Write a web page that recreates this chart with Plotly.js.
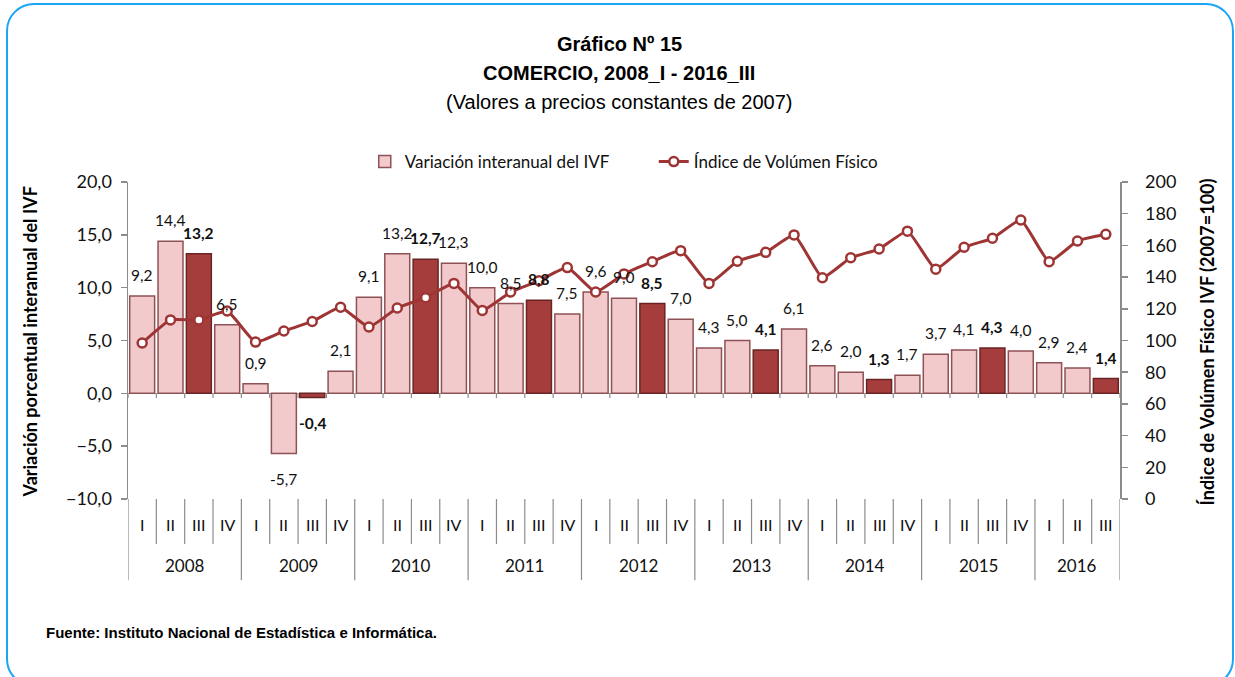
<!DOCTYPE html>
<html>
<head>
<meta charset="utf-8">
<script src="https://cdn.plot.ly/plotly-3.0.1.min.js"></script>
<style>
  body { margin: 0; background: #fff; }
  #wrap { position: relative; width: 1235px; height: 677px; }
  #plot { width: 1235px; height: 677px; }
  #frame {
    position: absolute; left: 6px; top: 3px; width: 1224px; height: 680px;
    border: 2px solid #1aa6f5; border-radius: 28px; pointer-events: none;
  }
</style>
</head>
<body>
<div id="wrap">
  <div id="plot"></div>
  <div id="frame"></div>
</div>
<script>
// data
const years = ["2008", "2009", "2010", "2011", "2012", "2013", "2014", "2015", "2016"];
const quarters = ["I", "II", "III", "IV"];
const variacion = [
  9.2, 14.4, 13.2, 6.5,
  0.9, -5.7, -0.4, 2.1,
  9.1, 13.2, 12.7, 12.3,
  10.0, 8.5, 8.8, 7.5,
  9.6, 9.0, 8.5, 7.0,
  4.3, 5.0, 4.1, 6.1,
  2.6, 2.0, 1.3, 1.7,
  3.7, 4.1, 4.3, 4.0,
  2.9, 2.4, 1.4
];
const ivf = [
  98.4, 113.0, 113.0, 118.6,
  99.0, 106.0, 112.0, 121.0,
  108.5, 120.5, 127.0, 136.0,
  119.0, 130.6, 137.7, 146.0,
  130.6, 142.0, 149.7, 156.7,
  136.0, 150.0, 155.6, 166.6,
  139.6, 152.2, 157.7, 169.0,
  145.0, 158.8, 164.5, 176.0,
  149.7, 162.8, 167.0
];

const n = variacion.length;
const xYear = [], xQuarter = [], cats = [];
for (let i = 0; i < n; i++) {
  xYear.push(years[Math.floor(i / 4)]);
  xQuarter.push(quarters[i % 4]);
  cats.push(xYear[i] + " " + xQuarter[i]);
}

const isThird = xQuarter.map((q) => q === "III");
const fmt = (v) => v.toFixed(1).replace(".", ",");

const lightFill = "#f3cacc", lightLine = "#8e5256";
const darkFill = "#a63d3d", darkLine = "#6a2424";
const lineColor = "#9e3534";
const axisGrey = "#8c8c8c";
const font = "Lato, 'Open Sans', sans-serif";
const titleFont = "'Liberation Sans', Arial, sans-serif";

const traces = [
  {
    type: "bar",
    name: "Variación interanual del IVF",
    x: cats,
    y: variacion,
    marker: {
      color: isThird.map((t) => (t ? darkFill : lightFill)),
      line: { color: isThird.map((t) => (t ? darkLine : lightLine)), width: 1.5 },
    },
    hoverinfo: "skip",
  },
  {
    type: "scatter",
    mode: "lines+markers",
    name: "Índice de Volúmen Físico",
    x: cats,
    y: ivf,
    yaxis: "y2",
    line: { color: lineColor, width: 3, shape: "spline", smoothing: 0.4 },
    marker: { symbol: "circle", size: 9, color: "#fff", line: { color: lineColor, width: 2.5 } },
    cliponaxis: false,
    hoverinfo: "skip",
  },
];

const annotations = [
  { text: "<b>Gráfico Nº 15</b>", y: 1.435 },
  { text: "<b>COMERCIO, 2008_I - 2016_III</b>", y: 1.344 },
  { text: "(Valores a precios constantes de 2007)", y: 1.252 },
].map((a) => ({
  text: a.text, xref: "paper", yref: "paper", x: 0.495, y: a.y,
  xanchor: "center", yanchor: "middle", showarrow: false,
  font: { family: titleFont, size: 20, color: "#000" },
}));

annotations.push(
  { text: "<b>Variación porcentual interanual del IVF</b>", xref: "paper", yref: "paper",
    x: -0.0988, y: 0.497, xanchor: "center", yanchor: "middle",
    textangle: -90, showarrow: false, font: { family: font, size: 18, color: "#000" } },
  { text: "<b>Índice de Volúmen Físico IVF (2007=100)</b>", xref: "paper", yref: "paper",
    x: 1.0877, y: 0.497, xanchor: "center", yanchor: "middle",
    textangle: -90, showarrow: false, font: { family: font, size: 18, color: "#000" } },
  { text: "<b>Fuente: Instituto Nacional de Estadística e Informática.</b>", xref: "paper", yref: "paper",
    x: -0.0847, xanchor: "left", y: -0.4196, yanchor: "middle", showarrow: false,
    font: { family: titleFont, size: 15, color: "#000" } }
);

// value labels over / under the bars
variacion.forEach((v, i) => {
  annotations.push({
    text: isThird[i] ? "<b>" + fmt(v) + "</b>" : fmt(v),
    x: i, y: v, xref: "x", yref: "y",
    xanchor: "center", yanchor: v >= 0 ? "bottom" : "top",
    yshift: v >= 0 ? 10 : -14,
    showarrow: false,
    font: { family: font, size: 15.5, color: "#111" },
  });
});

// quarter labels and year labels under the plot
xQuarter.forEach((q, i) => {
  annotations.push({
    text: q, x: i, y: -0.082, xref: "x", yref: "paper",
    xanchor: "center", yanchor: "middle", showarrow: false,
    font: { family: font, size: 16, color: "#111" },
  });
});
years.forEach((yr, k) => {
  const first = k * 4;
  const last = Math.min(first + 3, n - 1);
  annotations.push({
    text: yr, x: (first + last) / 2, y: -0.211, xref: "x", yref: "paper",
    xanchor: "center", yanchor: "middle", showarrow: false,
    font: { family: font, size: 17, color: "#111" },
  });
});

// separators between categories
const shapes = [];
for (let b = 0; b <= n; b++) {
  const isYear = b % 4 === 0 || b === n;
  shapes.push({
    type: "line", xref: "x", yref: "paper",
    x0: b - 0.5, x1: b - 0.5, y0: 0, y1: isYear ? -0.256 : -0.142,
    line: { color: axisGrey, width: 1.2 },
  });
  shapes.push({
    type: "line", xref: "x", yref: "y",
    x0: b - 0.5, x1: b - 0.5, y0: 0, y1: -0.45,
    line: { color: axisGrey, width: 1.2 },
  });
}

const layout = {
  width: 1235,
  height: 677,
  margin: { l: 128, r: 115, t: 182, b: 178 },
  paper_bgcolor: "#fff",
  plot_bgcolor: "#fff",
  separators: ",.",
  bargap: 0.12,
  showlegend: true,
  legend: {
    orientation: "h",
    x: 0.53, xanchor: "center",
    y: 1.063, yanchor: "middle",
    font: { family: font, size: 17, color: "#111" },
    entrywidth: 244,
    traceorder: "normal",
  },
  xaxis: {
    type: "category",
    range: [-0.5, n - 0.5],
    showticklabels: false,
    ticks: "",
    showline: false,
    showgrid: false,
    zeroline: false,
  },
  yaxis: {
    range: [-10, 20],
    dtick: 5,
    tickformat: ".1f",
    showline: true,
    linecolor: axisGrey,
    linewidth: 1.5,
    ticks: "outside",
    ticklen: 6,
    tickcolor: axisGrey,
    tickwidth: 1.5,
    ticklabelstandoff: 5,
    showgrid: false,
    zeroline: true,
    zerolinecolor: "#a0a0a0",
    zerolinewidth: 1.5,
    tickfont: { family: font, size: 18, color: "#111" },
  },
  yaxis2: {
    overlaying: "y",
    side: "right",
    range: [0, 200],
    dtick: 20,
    showline: true,
    linecolor: axisGrey,
    linewidth: 1.5,
    ticks: "outside",
    ticklen: 6,
    tickcolor: axisGrey,
    tickwidth: 1.5,
    ticklabelstandoff: 14,
    showgrid: false,
    zeroline: false,
    tickfont: { family: font, size: 18, color: "#111" },
  },
  annotations: annotations,
  shapes: shapes,
};

Plotly.newPlot("plot", traces, layout, { staticPlot: true });
</script>
</body>
</html>
